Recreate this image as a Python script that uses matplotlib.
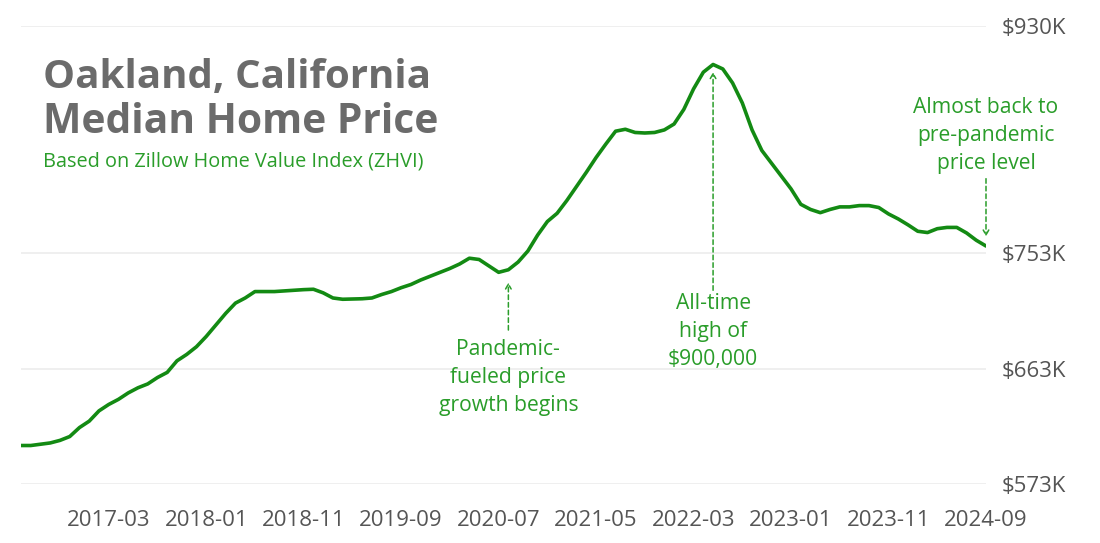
import matplotlib
matplotlib.use("Agg")
import matplotlib.pyplot as plt

plt.rcParams['font.family'] = ['Open Sans', 'DejaVu Sans']

# Monthly Zillow Home Value Index, Oakland CA, 2016-06 .. 2024-09 (thousands of $)
start_year, start_month = 2016, 6
values_k = [
    603, 603, 604, 605, 607, 610, 617, 622, 630, 635,
    639, 644, 648, 651, 656, 660, 669, 674, 680, 688,
    697, 706, 714, 718, 723, 723, 723, 723.5, 724, 724.5,
    724.8, 722, 718, 717, 717.2, 717.4, 718, 720.7, 723, 726,
    728.5, 732, 735, 738, 741, 744.5, 749, 748, 743, 738,
    740, 746, 754.6, 767, 777.6, 784, 794, 805, 816, 827.5,
    838, 848, 849.5, 847, 846.6, 847, 849, 853.6, 865, 881,
    894, 900, 896.5, 885.6, 870, 849, 833, 823, 813, 803,
    791, 787, 784.5, 787, 789, 789, 790, 790, 788.5, 783.5,
    779.6, 775, 770, 769, 772, 773, 773, 768.7, 763, 758.5,
]
months = [f"{start_year + (start_month - 1 + i) // 12}-{(start_month - 1 + i) % 12 + 1:02d}"
          for i in range(len(values_k))]

xtick_labels = ["2017-03", "2018-01", "2018-11", "2019-09", "2020-07",
                "2021-05", "2022-03", "2023-01", "2023-11", "2024-09"]
ytick_values = [573, 663, 753, 930]
ytick_labels = ["$573K", "$663K", "$753K", "$930K"]

title_lines = ["Oakland, California", "Median Home Price"]
subtitle = "Based on Zillow Home Value Index (ZHVI)"

annotations = [
    # (label, month, text value, arrow tail value, arrow tip value)
    ("Pandemic-\nfueled price\ngrowth begins", "2020-08", 656, 693, 730),
    ("All-time\nhigh of\n$900,000", "2022-05", 692, 724, 894),
    ("Almost back to\npre-pandemic\nprice level", "2024-09", 844.5, 811, 766),
]

LINE = "#138a13"
TEXT_GREEN = "#2a9d2a"
GRAY = "#555555"
TITLE_GRAY = "#6b6b6b"

fig = plt.figure(figsize=(11, 5.43), dpi=100)
W, H = 1100, 543
ax = fig.add_axes([21 / W, (H - 484) / H, (986 - 21) / W, (484 - 26) / H])

x = list(range(len(values_k)))
ax.plot(x, values_k, color=LINE, lw=2.6, solid_capstyle='round', solid_joinstyle='round', zorder=3)

ax.set_xlim(0, len(values_k) - 1)
ax.set_ylim(573, 930)

ax.set_xticks([months.index(m) for m in xtick_labels])
ax.set_xticklabels(xtick_labels)
ax.set_yticks(ytick_values)
ax.set_yticklabels(ytick_labels)
ax.yaxis.tick_right()
ax.tick_params(axis='y', length=0, pad=11, labelsize=16, labelcolor=GRAY)
ax.tick_params(axis='x', length=0, pad=19, labelsize=16, labelcolor=GRAY)
ax.grid(axis='y', color='#ececec', lw=1.2)
ax.set_axisbelow(True)
for s in ax.spines.values():
    s.set_visible(False)

# Title block
fig.text(43 / W, (H - 88) / H, title_lines[0], fontsize=29, fontweight='bold',
         color=TITLE_GRAY, va='baseline', ha='left')
fig.text(43 / W, (H - 133) / H, title_lines[1], fontsize=29.3, fontweight='bold',
         color=TITLE_GRAY, va='baseline', ha='left')
fig.text(43 / W, (H - 162) / H, subtitle, fontsize=14.3, color=TEXT_GREEN,
         va='center', ha='left')

for label, m, ty, tail, tip in annotations:
    xi = months.index(m)
    ax.text(xi, ty, label, ha='center', va='center', fontsize=15.2, color=TEXT_GREEN,
            linespacing=1.42, zorder=4)
    ax.annotate("", xy=(xi, tip), xytext=(xi, tail),
                arrowprops=dict(arrowstyle='->,head_length=0.35,head_width=0.2',
                                color=TEXT_GREEN, lw=1.1, ls=(0, (3, 2)),
                                shrinkA=0, shrinkB=0))

fig.savefig("out.png", dpi=100)
